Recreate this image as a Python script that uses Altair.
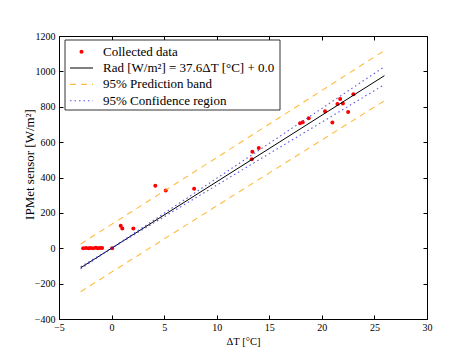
import altair as alt
import pandas as pd

# ---- data ----
data_dT = [-2.7, -2.45, -2.2, -2.0, -1.75, -1.5, -1.3, -1.1, -0.9, 0.05,
           0.87, 1.02, 2.07, 4.16, 5.15, 7.85, 13.33, 13.39, 14.0,
           17.93, 18.18, 18.75, 20.3, 21.0, 21.48, 21.74, 22.0, 22.5, 23.0]
data_rad = [0, 2, 0, 1, 0, 3, 0, 1, 2, 0,
            127, 111, 111, 354, 326, 337, 503, 546, 567,
            707, 712, 735, 774, 711, 815, 844, 818, 771, 871]

fit_dT = [-2.94, 25.95]
fit_rad = [-110.5, 975.7]

band_dT = [-2.94, 0, 5, 10, 15, 20, 25.95]
pred_upper = [24.5, 135, 323.4, 512.4, 702, 892, 1117.7]
pred_lower = [-245.5, -135, 52.6, 239.6, 426, 612, 833.7]
conf_upper = [-104.8, 0, 197.8, 395.5, 593, 791, 1026.3]
conf_lower = [-116.2, 0, 178.2, 356.5, 535, 713, 925.1]

legend_labels = ["Collected data",
                 "Rad [W/m²] = 37.6ΔT [°C] + 0.0",
                 "95% Prediction band",
                 "95% Confidence region"]

x_ticks = [-5, 0, 5, 10, 15, 20, 25, 30]
y_ticks = [-400, -200, 0, 200, 400, 600, 800, 1000, 1200]

# ---- frames ----
df_pts = pd.DataFrame({"dT": data_dT, "rad": data_rad})
df_fit = pd.DataFrame({"dT": fit_dT, "rad": fit_rad})
df_band = pd.DataFrame({"dT": band_dT, "pu": pred_upper, "pl": pred_lower,
                        "cu": conf_upper, "cl": conf_lower})
dummy = pd.DataFrame({"a": [0]})

FONT = "'Liberation Serif', 'DejaVu Serif', serif"
ORANGE = "#FFA500"
BLUE = "#3a3ae0"
W, H = 368, 283

XS = alt.Scale(domain=[-5, 30], nice=False, zero=False)
YS = alt.Scale(domain=[-400, 1200], nice=False, zero=False)

x_label_axis = alt.Axis(orient="bottom", values=x_ticks, format="d", tickSize=0, ticks=False,
                        domain=False, grid=False, labelFont=FONT, labelFontSize=10,
                        labelColor="black", labelPadding=3, labelFlush=False, labelOverlap=False,
                        title="ΔT [°C]", titleFont=FONT, titleFontSize=10.5,
                        titleFontWeight="normal", titleColor="black", titleY=22,
                        titleBaseline="middle")
y_label_axis = alt.Axis(orient="left", values=y_ticks, format="d", tickSize=0, ticks=False,
                        domain=False, grid=False, labelFont=FONT, labelFontSize=10,
                        labelColor="black", labelPadding=4, labelFlush=False, labelOverlap=False,
                        title="IPMet sensor [W/m²]", titleFont=FONT, titleFontSize=13,
                        titleFontWeight="normal", titleColor="black", titleAngle=270,
                        titleX=-30, titleY=128, titleAlign="center", titleBaseline="middle")


def tick_axis(orient, values):
    return alt.Axis(orient=orient, values=values, labels=False, domain=False, grid=False,
                    ticks=True, tickSize=4, tickColor="black", tickWidth=1, offset=-4,
                    title=None)


pts = alt.Chart(df_pts).mark_circle(size=16, color="red", opacity=1).encode(
    x=alt.X("dT:Q", scale=XS, axis=x_label_axis),
    y=alt.Y("rad:Q", scale=YS, axis=y_label_axis),
)
fit = alt.Chart(df_fit).mark_line(color="black", strokeWidth=1).encode(
    x=alt.X("dT:Q", scale=XS, axis=tick_axis("bottom", x_ticks)),
    y=alt.Y("rad:Q", scale=YS, axis=tick_axis("left", y_ticks)),
)
pu = alt.Chart(df_band).mark_line(color=ORANGE, strokeDash=[6, 5], strokeWidth=1.1, opacity=0.75).encode(
    x=alt.X("dT:Q", scale=XS, axis=tick_axis("top", x_ticks)),
    y=alt.Y("pu:Q", scale=YS, axis=tick_axis("right", y_ticks)),
)
pl = alt.Chart(df_band).mark_line(color=ORANGE, strokeDash=[6, 5], strokeWidth=1.1, opacity=0.75).encode(
    x=alt.X("dT:Q", scale=XS, axis=None),
    y=alt.Y("pl:Q", scale=YS, axis=None),
)
cu = alt.Chart(df_band).mark_line(color=BLUE, strokeDash=[1.5, 3], strokeWidth=1.1, opacity=0.85).encode(
    x=alt.X("dT:Q", scale=XS, axis=None),
    y=alt.Y("cu:Q", scale=YS, axis=None),
)
cl = alt.Chart(df_band).mark_line(color=BLUE, strokeDash=[1.5, 3], strokeWidth=1.1, opacity=0.85).encode(
    x=alt.X("dT:Q", scale=XS, axis=None),
    y=alt.Y("cl:Q", scale=YS, axis=None),
)

# ---- legend (drawn as decoration inside the plot) ----
row_y = [15.7, 32.0, 48.4, 64.8]
box = alt.Chart(dummy).mark_rect(fill="white", stroke="black", strokeWidth=0.8).encode(
    x=alt.value(6), x2=alt.value(221), y=alt.value(4), y2=alt.value(74))
leg = [box,
       alt.Chart(dummy).mark_circle(size=16, color="red", opacity=1).encode(
           x=alt.value(22.5), y=alt.value(row_y[0])),
       alt.Chart(dummy).mark_rule(color="black", strokeWidth=1).encode(
           x=alt.value(11), x2=alt.value(34), y=alt.value(row_y[1])),
       alt.Chart(dummy).mark_rule(color=ORANGE, strokeWidth=1.1, strokeDash=[6, 5], opacity=0.75).encode(
           x=alt.value(11), x2=alt.value(34), y=alt.value(row_y[2])),
       alt.Chart(dummy).mark_rule(color=BLUE, strokeWidth=1.1, strokeDash=[1.5, 3], opacity=0.85).encode(
           x=alt.value(11), x2=alt.value(34), y=alt.value(row_y[3]))]
for lab, yy in zip(legend_labels, row_y):
    leg.append(alt.Chart(dummy).mark_text(align="left", baseline="middle", font=FONT,
                                          fontSize=13, color="black").encode(
        x=alt.value(44), y=alt.value(yy), text=alt.value(lab)))

chart = alt.layer(pts, fit, pu, pl, cu, cl, *leg).resolve_axis(
    x="independent", y="independent"
).properties(
    width=W, height=H,
    autosize=alt.AutoSizeParams(type="none"),
    padding={"left": 51, "top": 28, "right": 39, "bottom": 28},
    background="white",
).configure(font=FONT).configure_view(stroke="black", strokeWidth=1).configure_axis(
    labelFont=FONT, titleFont=FONT
).configure_text(font=FONT)

chart.save("out.html", embed_options={"renderer": "svg", "actions": False})
